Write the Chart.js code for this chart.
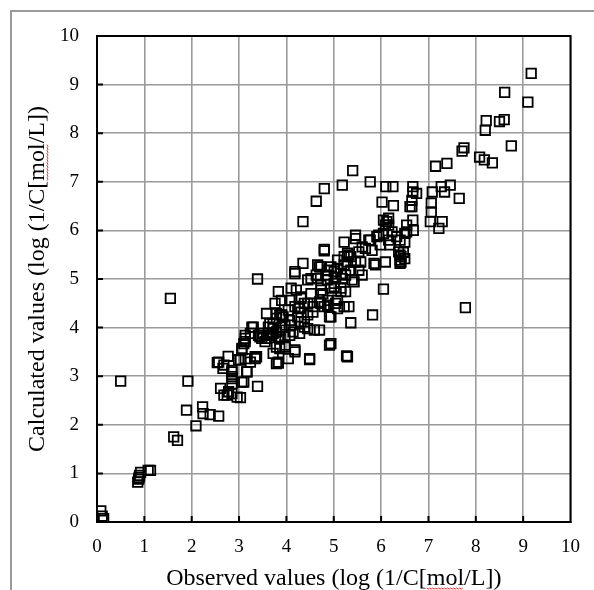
<!DOCTYPE html>
<html>
<head>
<meta charset="utf-8">
<script src="https://cdn.jsdelivr.net/npm/chart.js@4"></script>
<style>
  html, body { margin: 0; padding: 0; background: #fff; }
</style>
</head>
<body>
<canvas id="qsarChart" width="594" height="590"></canvas>
<script>
// == data == //
const X_TITLE = 'Observed values (log (1/C[mol/L])';
const Y_TITLE = 'Calculated values (log (1/C[mol/L])';
const AXIS_TICKS = [0, 1, 2, 3, 4, 5, 6, 7, 8, 9, 10];

const observed = [
  0.08, 0.14, 0.11, 0.86, 0.88, 0.89, 0.9, 0.92, 1.08, 1.13, 1.62, 1.7, 2.09, 1.89, 2.23, 2.24, 2.39, 2.57, 0.5, 1.92, 1.55, 3.39,
  2.54, 2.77, 2.66, 2.99, 2.85, 2.85, 2.85, 2.61, 2.78, 2.96, 2.75, 3.06, 3.16, 3.34, 3.24, 3.06, 3.13, 3.1, 3.24, 3.27, 3.51, 3.44,
  3.58, 3.69, 3.79, 3.79, 3.62, 3.72, 3.79, 3.86, 3.3, 3.13, 3.13, 3.65, 3.55, 3.86, 2.57, 2.68, 3.03, 3.34, 3.17, 2.85, 2.85, 3.1,
  2.68, 2.85, 3.03,
  4.8, 3.39, 4.35, 4.18, 4.7, 4.87, 5.08, 5.08, 5.22, 4.45, 4.66, 4.87, 5.01, 5.15, 3.83, 3.9, 4.21, 4.31, 4.52, 4.77, 4.7, 4.87,
  5.08, 5.32, 4.94, 4.45, 4.18, 4.04, 3.9, 4.07, 4.31, 3.58, 3.79, 3.65, 3.97, 3.41, 3.72, 3.86, 3.97, 4.14, 4.28, 4.38, 3.97, 4.18,
  3.83, 4.04, 4.49, 4.91, 3.37, 3.06, 3.13, 5.29, 5.25, 4.59, 3.76, 4.38, 4.56, 4.31,
  4.18, 4.63, 4.87, 5.04, 5.25, 4.1, 4.07, 4.31, 4.45, 4.28, 4.56, 4.24, 4.38, 4.1, 3.93, 3.79, 3.9, 3.72, 3.62, 3.48, 3.83, 4.07,
  4.45, 4.7, 4.91, 4.94, 4.8, 5.04, 3.97, 4.18, 3.72,
  4.8, 5.22, 5.46, 5.77, 5.95, 6.09, 6.05, 6.33, 6.23, 6.16, 6.4, 6.37, 6.4, 6.09, 5.85, 5.67, 5.53, 5.36, 5.29, 5.29, 5.01, 4.73,
  5.36, 5.57, 5.43, 5.18, 5.6, 6.05, 4.73, 4.94, 5.15, 4.87, 5.08, 4.73, 5.22,
  4.8, 5.18, 5.77, 5.4, 6.1, 6.25, 4.63, 4.35, 6.02, 6.26, 6.61, 6.16, 6.12, 6.54, 6.68, 5.46, 5.74, 5.91, 6.05, 6.5, 6.5, 5.6,
  5.81, 5.98, 6.19, 6.4, 6.4, 5.88, 5.32, 5.22, 5.46, 5.53, 4.66, 4.94, 5.15, 5.39, 5.01, 4.52, 4.73,
  9.17, 8.61, 9.1, 8.22, 8.5, 8.6, 8.2, 8.75, 7.71, 7.75, 8.08, 8.18, 8.35, 7.15, 7.39, 7.46, 7.27, 7.34, 7.08, 7.65, 6.67, 6.67,
  6.75, 6.65, 6.65, 7.06, 7.06, 6.16, 6.67, 7.04, 7.29, 7.22, 6.54,
  7.78, 5.27, 5.82, 5.36, 4.49, 3.83, 6.42, 6.42, 6.47, 6.5
];

const calculated = [
  0.23, 0.07, 0.12, 0.82, 0.88, 0.92, 0.96, 1.02, 1.06, 1.06, 1.75, 1.68, 1.98, 2.3, 2.37, 2.23, 2.21, 2.18, 2.9, 2.9, 4.6, 2.79,
  3.28, 3.41, 3.16, 3.34, 3.09, 2.95, 2.84, 2.75, 2.68, 2.57, 2.61, 2.88, 3.09, 3.36, 3.29, 3.57, 3.78, 3.67, 3.88, 4.01, 3.88, 3.81,
  3.78, 3.84, 3.91, 3.26, 4.01, 4.08, 3.6, 4.26, 4.01, 3.84, 3.71, 3.84, 3.71, 3.57, 3.29, 3.23, 3.33, 3.4, 3.09, 3.12, 2.99, 2.88,
  2.61, 2.64, 2.56,
  5.58, 5.0, 5.32, 5.15, 5.25, 5.18, 5.22, 5.39, 5.29, 4.98, 5.01, 4.98, 4.91, 4.81, 4.74, 4.56, 4.77, 4.6, 4.7, 4.7, 4.53, 4.46,
  4.39, 4.43, 4.22, 4.26, 4.43, 4.36, 4.26, 4.15, 4.12, 4.29, 4.19, 4.08, 4.05, 3.84, 3.88, 3.95, 3.81, 3.91, 3.88, 4.01, 3.64, 3.54,
  3.29, 3.36, 3.36, 3.64, 3.4, 3.54, 3.36, 3.4, 4.74, 3.95, 4.5, 4.5, 4.43, 4.32,
  5.11, 5.08, 5.08, 5.04, 5.08, 4.81, 4.56, 4.63, 4.5, 4.39, 4.32, 4.22, 4.12, 4.05, 4.22, 4.29, 4.01, 3.98, 3.84, 3.78, 3.81, 3.84,
  3.98, 3.95, 4.22, 3.67, 4.43, 4.5, 3.6, 3.5, 3.47,
  5.61, 5.76, 5.9, 5.8, 5.9, 6.11, 6.21, 5.87, 5.97, 5.8, 5.8, 5.56, 5.39, 5.35, 5.32, 5.63, 5.56, 5.46, 5.53, 5.35, 5.15, 5.25,
  5.18, 5.35, 4.94, 5.01, 5.08, 4.79, 4.87, 4.81, 4.74, 4.56, 4.56, 4.5, 4.43,
  6.86, 6.93, 7.0, 7.23, 6.9, 6.9, 6.6, 6.18, 6.58, 6.51, 6.49, 6.25, 6.18, 6.11, 6.0, 5.83, 5.8, 5.87, 5.94, 5.94, 5.76, 5.66,
  5.59, 5.7, 5.7, 5.49, 5.32, 5.29, 5.49, 5.46, 5.35, 5.18, 5.29, 5.25, 5.11, 4.98, 4.84, 5.01, 4.77,
  9.23, 8.84, 8.64, 8.26, 8.24, 8.28, 8.06, 7.74, 7.63, 7.7, 7.51, 7.45, 7.39, 7.32, 7.38, 6.93, 6.9, 6.79, 6.79, 6.66, 6.9, 6.79,
  6.76, 6.62, 6.49, 6.56, 6.38, 6.11, 6.21, 6.18, 6.18, 6.04, 5.97,
  4.41, 3.42, 4.26, 4.1, 3.34, 3.27, 5.46, 5.35, 5.55, 5.42
];

// == 그림 요소 == //
const SERIF = '"Liberation Serif", "Times New Roman", serif';

const plotFrame = {
  id: 'plotFrame',
  beforeDatasetsDraw(chart) {
    const { ctx, chartArea: a, scales: { x, y } } = chart;
    ctx.save();
    ctx.strokeStyle = '#000';
    ctx.lineWidth = 2;
    ctx.beginPath();
    AXIS_TICKS.slice(1, -1).forEach((v) => {
      const px = x.getPixelForValue(v);
      const py = y.getPixelForValue(v);
      ctx.moveTo(px, a.bottom);
      ctx.lineTo(px, a.bottom - 6);
      ctx.moveTo(a.left, py);
      ctx.lineTo(a.left + 6, py);
    });
    ctx.stroke();
    ctx.strokeRect(a.left, a.top, a.right - a.left, a.bottom - a.top);
    ctx.restore();
  },
  afterDraw(chart) {
    const { ctx, chartArea: a } = chart;
    // outer frame (runs off the page on the right and bottom)
    ctx.save();
    ctx.strokeStyle = '#9a9a9a';
    ctx.lineWidth = 2;
    ctx.beginPath();
    ctx.moveTo(11, 600);
    ctx.lineTo(11, 11);
    ctx.lineTo(600, 11);
    ctx.stroke();
    ctx.restore();

    drawTitle(ctx, X_TITLE, (a.left + a.right) / 2, 578, 0);
    drawTitle(ctx, Y_TITLE, 37, (a.top + a.bottom) / 2, -Math.PI / 2);
  }
};

function drawTitle(ctx, text, cx, cy, rot) {
  ctx.save();
  ctx.translate(cx, cy);
  ctx.rotate(rot);
  ctx.font = '24px ' + SERIF;
  ctx.fillStyle = '#000';
  ctx.textAlign = 'left';
  ctx.textBaseline = 'alphabetic';
  const w = ctx.measureText(text).width;
  const x0 = -w / 2;
  const base = 7;
  ctx.fillText(text, x0, base);

  // red spell-check wave under "mol"
  const i = text.indexOf('mol');
  const s = x0 + ctx.measureText(text.slice(0, i)).width;
  const e = s + ctx.measureText('mol').width;
  ctx.strokeStyle = '#e33';
  ctx.lineWidth = 1;
  ctx.beginPath();
  let k = 0;
  for (let p = s; p <= e; p += 1.5, k++) {
    const yy = base + 3 + (k % 2);
    if (k === 0) ctx.moveTo(p, yy); else ctx.lineTo(p, yy);
  }
  ctx.stroke();
  ctx.restore();
}

function axisOptions(fitSize, isX) {
  return {
    type: 'linear',
    min: 0,
    max: 10,
    afterBuildTicks: (scale) => {
      scale.ticks = AXIS_TICKS.map((v) => ({ value: v }));
    },
    afterFit: (scale) => {
      if (isX) scale.height = fitSize; else scale.width = fitSize;
    },
    ticks: {
      color: '#000',
      padding: isX ? 14 : 18,
      font: { family: SERIF, size: 19 }
    },
    grid: {
      color: '#9a9a9a',
      lineWidth: 1.6,
      drawTicks: false
    },
    border: { color: '#000', width: 2 }
  };
}

new Chart(document.getElementById('qsarChart'), {
  type: 'scatter',
  data: {
    datasets: [{
      label: 'QSAR',
      data: observed.map((v, i) => ({ x: v, y: calculated[i] })),
      pointStyle: 'rect',
      pointRadius: 6.7,
      pointHoverRadius: 6.7,
      borderColor: '#000',
      borderWidth: 1.8,
      backgroundColor: 'rgba(0,0,0,0)'
    }]
  },
  options: {
    responsive: false,
    animation: false,
    devicePixelRatio: 1,
    layout: { padding: { top: 36, right: 18, bottom: 0, left: 0 } },
    scales: {
      x: axisOptions(68, true),
      y: axisOptions(97, false)
    },
    plugins: {
      legend: { display: false },
      tooltip: { enabled: false }
    }
  },
  plugins: [plotFrame]
});
</script>
</body>
</html>
